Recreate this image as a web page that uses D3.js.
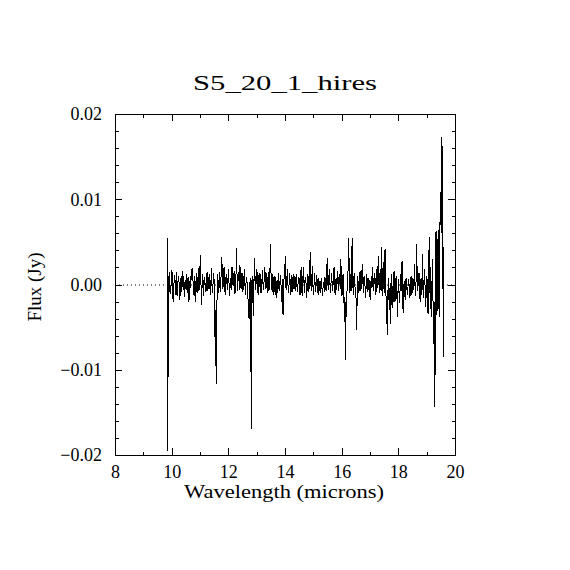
<!DOCTYPE html>
<html>
<head>
<meta charset="utf-8">
<script src="https://cdn.jsdelivr.net/npm/d3@7"></script>
<style>
  body { margin: 0; background: #fff; }
  svg text { font-family: "Liberation Serif", "DejaVu Serif", "Noto Serif", serif; fill: #000; }
</style>
</head>
<body>
<svg id="chart" width="570" height="570"></svg>
<script>
// labels and ticks
var title = "S5_20_1_hires",
    xLabel = "Wavelength (microns)",
    yLabel = "Flux (Jy)",
    xMajor = [8, 10, 12, 14, 16, 18, 20],
    xMinor = [9, 11, 13, 15, 17, 19],
    yMajor = [-0.02, -0.01, 0, 0.01, 0.02],
    yMinor = [-0.018, -0.016, -0.014, -0.012, -0.008, -0.006, -0.004, -0.002,
              0.002, 0.004, 0.006, 0.008, 0.012, 0.014, 0.016, 0.018];

// spectrum (microns / Jy)
var wave = [
  9.85, 9.86, 9.875, 9.89, 9.91,
  9.93,9.95,9.97,9.99,10.01,10.03,10.05,10.07,10.09,10.11,10.13,10.15,10.17,10.19,10.21,10.23,10.25,10.27,10.29,10.31,
  10.33,10.35,10.37,10.39,10.41,10.43,10.45,10.47,10.49,10.51,10.53,10.55,10.57,10.59,10.61,10.63,10.65,10.67,10.69,10.71,
  10.73,10.75,10.77,10.79,10.81,10.83,10.85,10.87,10.89,10.91,10.93,10.95,10.97,10.99,11.01,11.03,11.05,11.07,11.09,11.11,
  11.13,11.15,11.17,11.19,11.21,11.23,11.25,11.27,11.29,11.31,11.33,11.35,11.37,11.39,11.41,11.43,11.45,11.47,11.49,11.51,
  11.53,11.55,11.57,11.59,11.61,11.63,11.65,11.67,11.69,11.71,11.73,11.75,11.77,11.79,11.81,11.83,11.85,11.87,11.89,11.91,
  11.93,11.95,11.97,11.99,12.01,12.03,12.05,12.07,12.09,12.11,12.13,12.15,12.17,12.19,12.21,12.23,12.25,12.27,12.29,12.31,
  12.33,12.35,12.37,12.39,12.41,12.43,12.45,12.47,12.49,12.51,12.53,12.55,12.57,12.59,12.61,12.63,12.65,12.67,12.69,12.71,
  12.73,12.75,12.77,12.79,12.81,12.83,12.85,12.87,12.89,12.91,12.93,12.95,12.97,12.99,13.01,13.03,13.05,13.07,13.09,13.11,
  13.13,13.15,13.17,13.19,13.21,13.23,13.25,13.27,13.29,13.31,13.33,13.35,13.37,13.39,13.41,13.43,13.45,13.47,13.49,13.51,
  13.53,13.55,13.57,13.59,13.61,13.63,13.65,13.67,13.69,13.71,13.73,13.75,13.77,13.79,13.81,13.83,13.85,13.87,13.89,13.91,
  13.93,13.95,13.97,13.99,14.01,14.03,14.05,14.07,14.09,14.11,14.13,14.15,14.17,14.19,14.21,14.23,14.25,14.27,14.29,14.31,
  14.33,14.35,14.37,14.39,14.41,14.43,14.45,14.47,14.49,14.51,14.53,14.55,14.57,14.59,14.61,14.63,14.65,14.67,14.69,14.71,
  14.73,14.75,14.77,14.79,14.81,14.83,14.85,14.87,14.89,14.91,14.93,14.95,14.97,14.99,15.01,15.03,15.05,15.07,15.09,15.11,
  15.13,15.15,15.17,15.19,15.21,15.23,15.25,15.27,15.29,15.31,15.33,15.35,15.37,15.39,15.41,15.43,15.45,15.47,15.49,15.51,
  15.53,15.55,15.57,15.59,15.61,15.63,15.65,15.67,15.69,15.71,15.73,15.75,15.77,15.79,15.81,15.83,15.85,15.87,15.89,15.91,
  15.93,15.95,15.97,15.99,16.01,16.03,16.05,16.07,16.09,16.11,16.13,16.15,16.17,16.19,16.21,16.23,16.25,16.27,16.29,16.31,
  16.33,16.35,16.37,16.39,16.41,16.43,16.45,16.47,16.49,16.51,16.53,16.55,16.57,16.59,16.61,16.63,16.65,16.67,16.69,16.71,
  16.73,16.75,16.77,16.79,16.81,16.83,16.85,16.87,16.89,16.91,16.93,16.95,16.97,16.99,17.01,17.03,17.05,17.07,17.09,17.11,
  17.13,17.15,17.17,17.19,17.21,17.23,17.25,17.27,17.29,17.31,17.33,17.35,17.37,17.39,17.41,17.43,17.45,17.47,17.49,17.51,
  17.53,17.55,17.57,17.59,17.61,17.63,17.65,17.67,17.69,17.71,17.73,17.75,17.77,17.79,17.81,17.83,17.85,17.87,17.89,17.91,
  17.93,17.95,17.97,17.99,18.01,18.03,18.05,18.07,18.09,18.11,18.13,18.15,18.17,18.19,18.21,18.23,18.25,18.27,18.29,18.31,
  18.33,18.35,18.37,18.39,18.41,18.43,18.45,18.47,18.49,18.51,18.53,18.55,18.57,18.59,18.61,18.63,18.65,18.67,18.69,18.71,
  18.73,18.75,18.77,18.79,18.81,18.83,18.85,18.87,18.89,18.91,18.93,18.95,18.97,18.99,19.01,19.03,19.05,19.07,19.09,19.11,
  19.13,19.15,19.17,19.19,19.21,19.23,19.25,19.27,19.29,19.31,19.33,19.35,19.37,19.39,19.41,19.43,19.45,19.47,19.49,19.51,
  19.53, 19.55, 19.57, 19.58, 19.60
];

var flux = [
  .0055, -.0195, .0010, -.0109, .0012,
  .0014,-.0011,-.0008,.0009,.0017,.0002,-.0020,-.0004,.0006,.0011,-.0012,.0003,.0015,-.0014,-.0005,.0007,.0010,-.0006,-.0018,.0004,
  .0008,-.0009,.0016,.0001,-.0006,.0010,-.0015,-.0003,.0005,-.0007,.0012,.0004,-.0010,.0009,-.0020,-.0008,.0006,-.0004,.0018,.0005,
  .0019,.0006,-.0004,-.0013,.0010,.0002,-.0021,.0005,.0014,-.0010,-.0008,.0011,.0022,-.0006,.0035,.0008,-.0024,-.0005,.0012,.0003,
  -.0014,.0009,.0006,-.0005,-.0009,.0004,.0015,-.0008,-.0003,.0007,.0012,-.0004,-.0012,.0006,.0019,-.0010,-.0006,.0008,.0014,-.0020,
  -.0062,-.0030,-.0117,-.0045,.0005,.0012,-.0010,-.0002,.0015,-.0009,-.0004,.0018,.0032,.0008,-.0005,.0010,.0020,-.0003,-.0012,.0006,
  .0012,.0002,-.0006,.0009,.0018,-.0004,-.0013,.0006,.0008,-.0007,.0021,.0003,-.0002,.0011,.0016,-.0011,-.0008,.0010,.0043,.0005,
  -.0008,.0015,.0010,-.0006,.0023,.0004,-.0005,.0012,.0014,-.0009,-.0002,.0008,.0018,-.0003,-.0012,.0007,.0009,-.0004,-.0015,-.0022,
  -.0040,-.0015,.0008,-.0030,-.0170,.0005,-.0022,.0010,-.0037,.0012,.0031,-.0004,-.0006,.0014,.0018,-.0009,-.0010,.0006,.0014,-.0003,
  .0012,-.0010,-.0007,.0008,.0017,-.0006,-.0003,.0010,.0020,-.0005,.0006,.0014,-.0010,.0002,.0015,-.0008,-.0004,.0018,.0048,.0006,
  -.0002,-.0009,.0012,.0004,-.0012,.0010,.0008,-.0006,-.0016,.0003,.0005,-.0010,.0014,.0002,-.0008,.0009,.0010,-.0012,-.0020,.0006,
  -.0036,-.0008,.0010,.0015,.0033,-.0003,-.0006,.0009,.0018,-.0004,-.0010,.0006,.0014,-.0007,-.0012,.0011,.0008,-.0009,-.0004,.0012,
  .0006,-.0004,-.0008,.0010,.0012,-.0009,-.0005,.0007,.0009,.0001,-.0012,.0008,.0020,-.0006,-.0014,.0005,.0021,.0003,-.0010,.0009,
  .0008,-.0003,-.0016,.0006,.0012,-.0009,-.0004,.0013,.0038,.0002,-.0008,.0010,.0022,-.0005,-.0012,.0004,.0014,-.0009,-.0006,.0011,
  .0006,-.0005,-.0012,.0007,.0002,-.0006,-.0010,.0004,.0008,-.0008,-.0014,.0003,.0000,-.0009,.0009,.0001,-.0008,.0010,.0031,.0004,
  -.0006,.0009,.0018,-.0002,-.0010,.0006,.0014,-.0007,-.0004,.0010,.0020,-.0003,-.0012,.0005,.0008,-.0006,.0016,.0002,-.0008,.0012,
  .0008,-.0005,.0030,.0006,-.0014,.0003,.0012,-.0012,-.0028,-.0015,-.0088,-.0020,-.0038,-.0006,.0010,.0018,.0055,.0004,-.0010,.0012,
  -.0008,.0014,.0054,.0005,-.0012,.0008,.0014,-.0003,-.0006,-.0018,-.0053,-.0008,.0010,-.0006,-.0010,.0009,.0016,-.0007,-.0004,.0012,
  .0024,.0003,-.0010,.0010,.0008,-.0005,-.0016,.0006,.0012,-.0009,-.0006,.0008,.0004,-.0010,-.0018,.0002,.0010,-.0004,.0021,.0005,
  -.0008,.0006,.0014,-.0006,-.0012,.0009,.0020,-.0004,.0034,.0005,-.0010,.0012,.0018,-.0008,.0044,.0010,-.0014,.0004,.0026,-.0010,
  .0042,.0006,-.0020,-.0032,-.0059,-.0012,.0008,-.0018,-.0030,.0002,-.0046,-.0010,.0012,-.0028,-.0024,.0005,.0016,-.0020,-.0018,.0006,
  .0010,-.0012,-.0038,-.0006,.0006,-.0016,-.0022,.0008,.0012,-.0008,.0027,-.0010,-.0034,-.0004,.0004,-.0014,-.0018,.0006,.0008,-.0010,
  -.0012,.0004,.0006,-.0010,-.0016,.0002,.0010,-.0012,-.0008,.0008,.0004,-.0006,.0024,-.0004,-.0014,.0010,.0048,-.0008,-.0006,.0010,
  .0014,-.0008,-.0020,.0004,.0008,-.0012,.0036,-.0006,-.0016,.0010,.0018,-.0014,-.0026,.0002,.0010,-.0022,-.0035,.0014,.0056,-.0010,
  .0020,-.0026,-.0038,.0008,.0030,-.0040,-.0070,-.0020,-.0144,.0010,.0063,-.0036,-.0030,.0040,.0064,-.0025,-.0038,.0070,.0108,.0060,
  .0173, .0020, .0163, -.0085, .0044
];

if (wave.length !== flux.length) console.error('length mismatch', wave.length, flux.length);

var margin = { top: 114, right: 115, bottom: 115, left: 115 },
    width = 570,
    height = 570,
    fontStack = '"Liberation Serif", "DejaVu Serif", "Noto Serif", serif';

var svg = d3.select('#chart');

var x = d3.scaleLinear()
    .domain([8, 20])
    .range([margin.left, width - margin.right]);

var y = d3.scaleLinear()
    .domain([-0.02, 0.02])
    .range([height - margin.bottom, margin.top]);

// zero level, dotted, under the data
svg.append('line')
    .attr('x1', x(8)).attr('x2', x(20))
    .attr('y1', y(0) + 0.5).attr('y2', y(0) + 0.5)
    .attr('stroke', '#000')
    .attr('stroke-width', 1)
    .attr('stroke-dasharray', '1,3');

var line = d3.line()
    .x(d => x(d[0]))
    .y(d => y(d[1]));

svg.append('path')
    .datum(d3.zip(wave, flux))
    .attr('fill', 'none')
    .attr('stroke', '#000')
    .attr('stroke-width', 1)
    .attr('shape-rendering', 'crispEdges')
    .attr('d', line);

// ticks pointing inwards on all four sides
function ticks(axis, vals, size, pos, labels, pad) {
    var g = svg.append('g')
        .attr('transform', pos)
        .call(axis.tickValues(vals).tickSize(-size)
            .tickFormat(labels || '')
            .tickPadding(pad || 3));
    g.select('.domain').remove();
    g.selectAll('line').attr('stroke', '#000').attr('shape-rendering', 'crispEdges');
    g.selectAll('text')
        .attr('font-family', fontStack)
        .attr('font-size', 18)
        .attr('fill', '#000');
    return g;
}

var fmtY = d3.format('.2f');

ticks(d3.axisBottom(x), xMajor, 7, 'translate(0,' + y(-0.02) + ')', d => d, 10);
ticks(d3.axisBottom(x), xMinor, 3.5, 'translate(0,' + y(-0.02) + ')');
ticks(d3.axisTop(x), xMajor, 7, 'translate(0,' + y(0.02) + ')');
ticks(d3.axisTop(x), xMinor, 3.5, 'translate(0,' + y(0.02) + ')');
ticks(d3.axisLeft(y), yMajor, 7, 'translate(' + x(8) + ',0)', fmtY, 13);
ticks(d3.axisLeft(y), yMinor, 3.5, 'translate(' + x(8) + ',0)');
ticks(d3.axisRight(y), yMajor, 7, 'translate(' + x(20) + ',0)');
ticks(d3.axisRight(y), yMinor, 3.5, 'translate(' + x(20) + ',0)');

// frame
svg.append('rect')
    .attr('x', x(8)).attr('y', y(0.02))
    .attr('width', x(20) - x(8))
    .attr('height', y(-0.02) - y(0.02))
    .attr('fill', 'none')
    .attr('stroke', '#000')
    .attr('stroke-width', 1)
    .attr('shape-rendering', 'crispEdges');

svg.append('text')
    .attr('x', 285).attr('y', 90)
    .attr('text-anchor', 'middle')
    .attr('font-family', fontStack)
    .attr('font-size', 22)
    .attr('textLength', 184)
    .attr('lengthAdjust', 'spacingAndGlyphs')
    .text(title);

svg.append('text')
    .attr('x', 284).attr('y', 498)
    .attr('text-anchor', 'middle')
    .attr('font-family', fontStack)
    .attr('font-size', 18)
    .attr('textLength', 200)
    .attr('lengthAdjust', 'spacingAndGlyphs')
    .text(xLabel);

svg.append('text')
    .attr('transform', 'translate(41,287) rotate(-90)')
    .attr('text-anchor', 'middle')
    .attr('font-family', fontStack)
    .attr('font-size', 19)
    .text(yLabel);
</script>
</body>
</html>
